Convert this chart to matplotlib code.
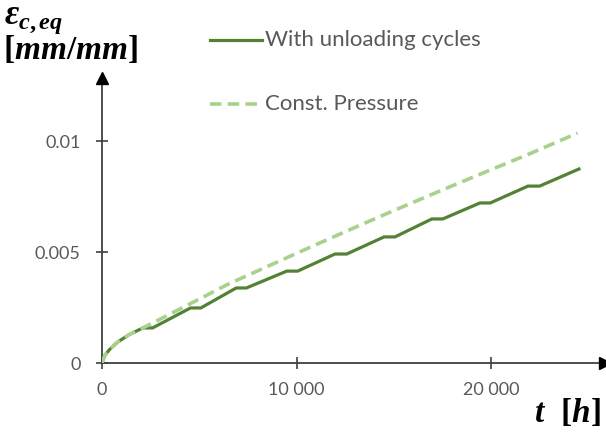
import matplotlib
matplotlib.use("Agg")
import matplotlib.pyplot as plt
from matplotlib.lines import Line2D

# Creep strain over time: loading with periodic unloading vs. constant pressure
series_names = ["With unloading cycles", "Const. Pressure"]

t_cycles = [0, 150, 400, 800, 1400, 2100, 2600, 4550, 5080, 6900, 7420, 9500,
            10060, 11980, 12580, 14500, 15060, 16960, 17520, 19430, 19960,
            21900, 22500, 24520]
eps_cycles = [0, 0.00035, 0.00062, 0.00094, 0.00128, 0.00158, 0.00158,
              0.00248, 0.00248, 0.00338, 0.00338, 0.00414, 0.00414, 0.00491,
              0.00491, 0.00568, 0.00568, 0.00649, 0.00649, 0.00721, 0.00721,
              0.00797, 0.00797, 0.00874]

t_const = [0, 150, 400, 800, 1400, 2100, 3000, 4000, 5000, 6500, 8000, 10000,
           12000, 14000, 16000, 18000, 20000, 22000, 24450]
eps_const = [0, 0.00035, 0.00062, 0.00094, 0.00128, 0.00158, 0.00198,
             0.00243, 0.00288, 0.00356, 0.00415, 0.00494, 0.00572, 0.00649,
             0.00724, 0.00798, 0.00871, 0.00943, 0.01036]

x_ticks = [0, 10000, 20000]
x_tick_labels = ["0", "10 000", "20 000"]
y_ticks = [0, 0.005, 0.01]
y_tick_labels = ["0", "0.005", "0.01"]

DARK = "#548235"
LIGHT = "#A9D18E"
GREY = "#595959"
AXIS = "#404040"

plt.rcParams["font.family"] = ["Lato", "DejaVu Sans"]
plt.rcParams["mathtext.fontset"] = "custom"
plt.rcParams["mathtext.it"] = "Liberation Serif:italic:bold"
plt.rcParams["mathtext.bf"] = "Liberation Serif:bold"
plt.rcParams["mathtext.rm"] = "Liberation Serif:bold"

W, H = 606, 432
fig = plt.figure(figsize=(W / 100, H / 100), dpi=100)
ax = fig.add_axes([102 / W, (H - 363) / H, 503 / W, 285 / H])

ax.plot(t_cycles, eps_cycles, color=DARK, lw=2.3, solid_joinstyle="miter",
        zorder=3)
ax.plot(t_const, eps_const, color=LIGHT, lw=2.6, dashes=(3.2, 1.7),
        dash_capstyle="butt", zorder=4)

ax.set_xlim(0, 25860)
ax.set_ylim(0, 0.01284)

for side in ("top", "right"):
    ax.spines[side].set_visible(False)
for side in ("left", "bottom"):
    ax.spines[side].set_color(AXIS)
    ax.spines[side].set_linewidth(1.3)

# arrow heads at the ends of both axes
ax.plot([1], [0], marker=">", ms=9, color="black", transform=ax.transAxes,
        clip_on=False, zorder=5)
ax.plot([0], [1], marker="^", ms=9, color="black", transform=ax.transAxes,
        clip_on=False, zorder=5)

ax.set_xticks(x_ticks)
ax.set_xticklabels(x_tick_labels)
ax.set_yticks(y_ticks)
ax.set_yticklabels(y_tick_labels)
ax.tick_params(axis="both", direction="inout", length=9, width=1.2,
               color=AXIS, labelcolor=GREY, labelsize=13)
ax.tick_params(axis="x", pad=9)
ax.tick_params(axis="y", pad=11)

# axis titles
fig.text(4 / W, 1 - 24 / H, r"$\varepsilon_{c,eq}$", fontsize=25,
         ha="left", va="baseline")
fig.text(3 / W, 1 - 59 / H, r"$\mathbf{[}mm/mm\mathbf{]}$", fontsize=24,
         ha="left", va="baseline")
fig.text(601 / W, 1 - 422 / H, r"$t\ \ \mathbf{[}h\mathbf{]}$", fontsize=24,
         ha="right", va="baseline")

# legend
legend_rows = [(40, DARK, dict(lw=2.3)),
               (104, LIGHT, dict(lw=2.6, dashes=(3.2, 1.7),
                                 dash_capstyle="butt"))]
for name, (ypx, col, kw) in zip(series_names, legend_rows):
    yf = 1 - ypx / H
    fig.add_artist(Line2D([210 / W, 262 / W], [yf, yf], color=col,
                          transform=fig.transFigure, **kw))
    fig.text(265 / W, yf, name, fontsize=16, color=GREY, ha="left",
             va="center")

fig.savefig("out.png", dpi=100)
